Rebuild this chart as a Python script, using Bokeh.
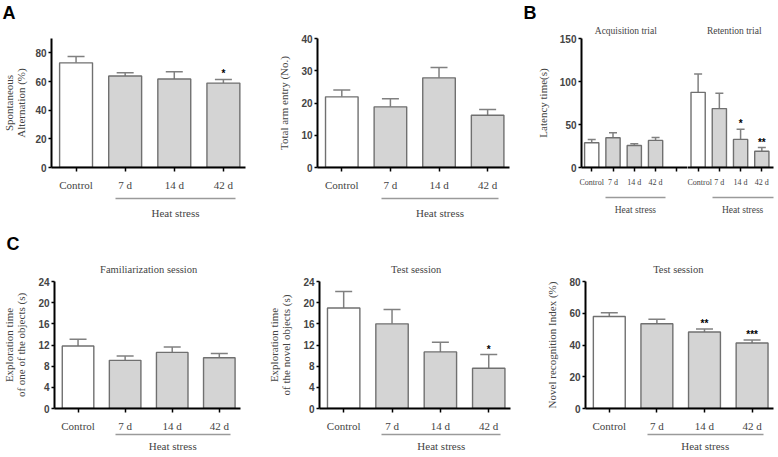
from bokeh.plotting import figure
from bokeh.models import Range1d, FixedTicker, LinearAxis, Whisker, TeeHead, ColumnDataSource
from bokeh.layouts import row, column
from bokeh.embed import file_html
from bokeh.resources import INLINE
from bokeh.core.properties import value

# ---------------- data ----------------
groups = ["Control", "7 d", "14 d", "42 d"]

alt_mean = [73.0, 63.8, 61.7, 58.9]
alt_sem = [4.4, 2.3, 5.1, 2.5]
alt_sig = ["", "", "", "*"]

arm_mean = [21.9, 18.8, 27.8, 16.2]
arm_sem = [2.1, 2.5, 3.2, 1.8]
arm_sig = ["", "", "", ""]

acq_mean = [28.7, 34.6, 25.6, 31.5]
acq_sem = [4.0, 5.9, 2.0, 3.5]
acq_sig = ["", "", "", ""]

ret_mean = [87.4, 68.5, 32.7, 18.9]
ret_sem = [21.3, 17.7, 11.8, 4.3]
ret_sig = ["", "", "*", "**"]

fam_mean = [11.8, 9.1, 10.6, 9.6]
fam_sem = [1.3, 0.8, 1.0, 0.8]
fam_sig = ["", "", "", ""]

nov_mean = [19.0, 16.0, 10.7, 7.6]
nov_sem = [3.1, 2.7, 1.8, 2.6]
nov_sig = ["", "", "", "*"]

nri_mean = [58.0, 53.4, 48.2, 41.3]
nri_sem = [2.3, 2.8, 1.9, 1.9]
nri_sig = ["", "", "**", "***"]

alt_ticks = [0, 20, 40, 60, 80]
arm_ticks = [0, 10, 20, 30, 40]
lat_ticks = [0, 50, 100, 150]
exp_ticks = [0, 4, 8, 12, 16, 20, 24]
nri_ticks = [0, 20, 40, 60, 80]

# ---------------- style ----------------
SERIF = "Liberation Serif"
SANS = "Liberation Sans"
BAR_LINE = "#707070"
ERR = "#808080"
GRAY_FILL = "#d4d4d4"
HS_LINE = "#9a9a9a"


def make_fig(width, height, bl, bt, br, bb, xr, ytop, yticks, ylabel, show_y=True, lab_standoff=8):
    p = figure(width=width, height=height, x_range=Range1d(*xr), y_range=Range1d(0, ytop),
               output_backend="svg", toolbar_location=None,
               min_border_left=bl, min_border_right=br, min_border_top=bt, min_border_bottom=bb)
    p.grid.visible = False
    p.outline_line_color = None
    ya = p.yaxis[0]
    ya.ticker = FixedTicker(ticks=yticks)
    ya.axis_line_width = 2
    ya.axis_line_color = "black"
    ya.major_tick_out = 3
    ya.major_tick_in = 0
    ya.major_tick_line_width = 1.5
    ya.minor_tick_line_color = None
    ya.major_label_text_font = SANS
    ya.major_label_text_font_style = "bold"
    ya.major_label_text_font_size = "10px"
    ya.major_label_standoff = 2
    ya.axis_label = ylabel
    ya.axis_label_text_font = SERIF
    ya.axis_label_text_font_size = "11px"
    ya.axis_label_text_font_style = "normal"
    ya.axis_label_text_line_height = 1.0
    ya.axis_label_standoff = lab_standoff
    if not show_y:
        ya.visible = False
    return p


def style_x(p, ticks, labels, size, standoff, gap):
    xa = p.xaxis[0]
    xa.ticker = FixedTicker(ticks=ticks)
    xa.major_label_overrides = {t: l for t, l in zip(ticks, labels)}
    xa.axis_line_width = 2
    xa.axis_line_color = "black"
    xa.major_tick_out = 4
    xa.major_tick_in = 0
    xa.major_tick_line_width = 1.5
    xa.minor_tick_line_color = None
    xa.major_label_text_font = SERIF
    xa.major_label_text_font_size = size
    xa.major_label_standoff = standoff
    if gap is not None:
        xa.axis_label = " "
        xa.axis_label_text_font_size = "1px"
        xa.axis_label_standoff = gap


def heat_axis(p, lo, hi, size, standoff):
    mid = (lo + hi) / 2
    ax = LinearAxis(ticker=FixedTicker(ticks=[mid]), major_label_overrides={mid: "Heat stress"},
                    bounds=(lo, hi), axis_line_color=HS_LINE, axis_line_width=1.5,
                    major_tick_out=0, major_tick_in=0, minor_tick_out=0, minor_tick_in=0,
                    major_tick_line_color=None, minor_tick_line_color=None,
                    major_label_text_font=SERIF, major_label_text_font_size=size,
                    major_label_standoff=standoff)
    p.add_layout(ax, "below")


def title_axis(p, pos, text, size, standoff):
    ax = LinearAxis(ticker=FixedTicker(ticks=[pos]), major_label_overrides={pos: text},
                    axis_line_color=None, major_tick_line_color=None, minor_tick_line_color=None,
                    major_tick_out=0, major_tick_in=0, minor_tick_out=0, minor_tick_in=0,
                    major_label_text_font=SERIF, major_label_text_font_size=size,
                    major_label_standoff=standoff)
    p.add_layout(ax, "above")


def bars(p, xs, mean, sem, sig, cap):
    src = ColumnDataSource(dict(
        x=xs, top=mean, hi=[m + s for m, s in zip(mean, sem)], sig=sig,
        fill=["white" if g == "Control" else GRAY_FILL for g in groups]))
    w = Whisker(source=src, base="x", lower="top", upper="hi", line_color=ERR, line_width=1.5,
                upper_head=TeeHead(size=cap, line_color=ERR, line_width=1.5), lower_head=None)
    p.add_layout(w)
    p.vbar(x="x", top="top", bottom=0, width=0.67, fill_color="fill", line_color=BAR_LINE,
           line_width=1.4, source=src)
    p.text(x="x", y="hi", text="sig", source=src, text_align="center", text_baseline="bottom",
           text_font=value(SANS), text_font_size="10px", text_font_style="bold", text_color="black")


def letter(p, txt, offset, standoff, valign="bottom"):
    t = p.title
    t.text = txt
    t.align = "left"
    t.vertical_align = valign
    t.offset = offset
    t.standoff = standoff
    t.text_font = SANS
    t.text_font_size = "18px"
    t.text_font_style = "bold"
    t.text_color = "black"


xs = list(range(len(groups)))

# ---- A1 ----
a1 = make_fig(264, 228, 51, 38, 19, 61, (-0.5, 3.45), 90, alt_ticks, "Spontaneous\nAlternation (%)",
              lab_standoff=5)
bars(a1, xs, alt_mean, alt_sem, alt_sig, 17)
style_x(a1, xs, groups, "11px", 7, 1)
heat_axis(a1, 0.8, 3.25, "11px", 8)
title_axis(a1, 1.5, " ", "9.5px", 3)   # empty spacer row, same height as panel B's titles
letter(a1, "A", -49, 0)

# ---- A2 ----
a2 = make_fig(256, 228, 53, 38, 11, 61, (-0.5, 3.45), 40, arm_ticks, "Total arm entry (No.)")
bars(a2, xs, arm_mean, arm_sem, arm_sig, 17)
style_x(a2, xs, groups, "11px", 7, 1)
heat_axis(a2, 0.81, 3.23, "11px", 8)

# ---- B (acquisition + retention) ----
b1 = make_fig(167, 228, 61, 38, 0, 61, (-0.48, 4.5), 150, lat_ticks, "Latency time(s)")
bars(b1, xs, acq_mean, acq_sem, acq_sig, 8)
style_x(b1, xs + [4], groups + [""], "8px", 6, 4)
heat_axis(b1, 0.64, 3.46, "9.5px", 7)
title_axis(b1, 1.6, "Acquisition trial", "9.5px", 3)
letter(b1, "B", -58, 0)

xr2 = [x + 5 for x in xs]
b2 = make_fig(91, 228, 0, 38, 5, 61, (4.5, 8.55), 150, lat_ticks, "", show_y=False)
bars(b2, xr2, ret_mean, ret_sem, ret_sig, 8)
style_x(b2, xr2, groups, "8px", 6, 4)
heat_axis(b2, 5.66, 8.53, "9.5px", 7)
title_axis(b2, 6.7, "Retention trial", "9.5px", 3)

# ---- C1 ----
c1 = make_fig(264, 229, 50, 53, 24, 49, (-0.5, 3.45), 24, exp_ticks,
              "Exploration time\nof one of the objects (s)")
bars(c1, xs, fam_mean, fam_sem, fam_sig, 17)
style_x(c1, xs, groups, "11px", 7, None)
heat_axis(c1, 0.79, 3.23, "11px", 5)
title_axis(c1, 1.5, "Familiarization session", "10.5px", 7)
letter(c1, "C", -48, 9, valign="top")

# ---- C2 ----
c2 = make_fig(256, 229, 55, 53, 10, 49, (-0.5, 3.45), 24, exp_ticks,
              "Exploration time\nof the novel objects (s)")
bars(c2, xs, nov_mean, nov_sem, nov_sig, 17)
style_x(c2, xs, groups, "11px", 7, None)
heat_axis(c2, 0.79, 3.25, "11px", 5)
title_axis(c2, 1.5, "Test session", "10.5px", 7)

# ---- C3 ----
c3 = make_fig(258, 229, 65, 53, 5, 49, (-0.5, 3.45), 80, nri_ticks, "Novel recognition Index (%)")
bars(c3, xs, nri_mean, nri_sem, nri_sig, 17)
style_x(c3, xs, groups, "11px", 7, None)
heat_axis(c3, 0.8, 3.23, "11px", 5)
title_axis(c3, 1.45, "Test session", "10.5px", 7)

layout = column(row(a1, a2, b1, b2), row(c1, c2, c3))

open("out.html", "w").write(file_html(layout, INLINE))
